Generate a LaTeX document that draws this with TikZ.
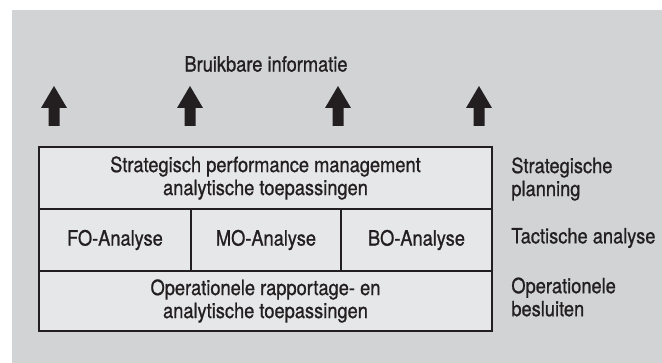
\documentclass[tikz,border=0pt]{standalone}
\usepackage{fontspec}
\setmainfont{TeX Gyre Heros}[FakeStretch=0.87,FakeBold=0.9]
\usepackage{tikz}
\definecolor{bggray}{RGB}{209,211,212}
\definecolor{cellgray}{RGB}{230,231,232}
\definecolor{ink}{RGB}{35,31,32}
\tikzset{every picture/.style={line width=0.75pt}}
\tikzset{
  cell/.style={draw=ink, fill=cellgray, line width=1.2pt, inner sep=0pt, align=center, text=ink},
  sidelabel/.style={anchor=west, inner sep=0pt, align=left, text=ink},
  upblock/.style={fill=ink, draw=none}
}

\begin{document}
\begin{tikzpicture}[x=1pt,y=1pt,yscale=-1,xscale=1,font=\fontsize{21}{23}\selectfont]
\useasboundingbox (0,0) rectangle (662,363);

%Shape: Rectangle [background]
\fill [bggray] (12,10) rectangle (662,363);

%Shape: Block arrows
\foreach \ax in {54,190,338,479}{
  \fill [upblock] (\ax,86) -- (\ax+13,108) -- (\ax+5.5,108) -- (\ax+5.5,126) -- (\ax-5.5,126) -- (\ax-5.5,108) -- (\ax-13,108) -- cycle ;
}

% Text Node
\node (info) [inner sep=0pt, text=ink] at (266,64) {Bruikbare informatie};

%Shape: Rectangle rows
\node (spm) [cell, minimum width=453, minimum height=62] at (265.5,178) {Strategisch performance management\\analytische toepassingen};
\node (fo) [cell, minimum width=152, minimum height=62] at (115,240) {FO-Analyse};
\node (mo) [cell, minimum width=150, minimum height=62] at (266,240) {MO-Analyse};
\node (bo) [cell, minimum width=151, minimum height=62] at (416.5,240) {BO-Analyse};
\node (ops) [cell, minimum width=453, minimum height=60] at (265.5,301) {Operationele rapportage- en\\analytische toepassingen};

% Text Node
\node (strat) [sidelabel] at (511,179) {Strategische\\planning};
% Text Node
\node (tact) [sidelabel] at (511,238) {Tactische analyse};
% Text Node
\node (oper) [sidelabel] at (511,297) {Operationele\\besluiten};

\end{tikzpicture}
\end{document}
